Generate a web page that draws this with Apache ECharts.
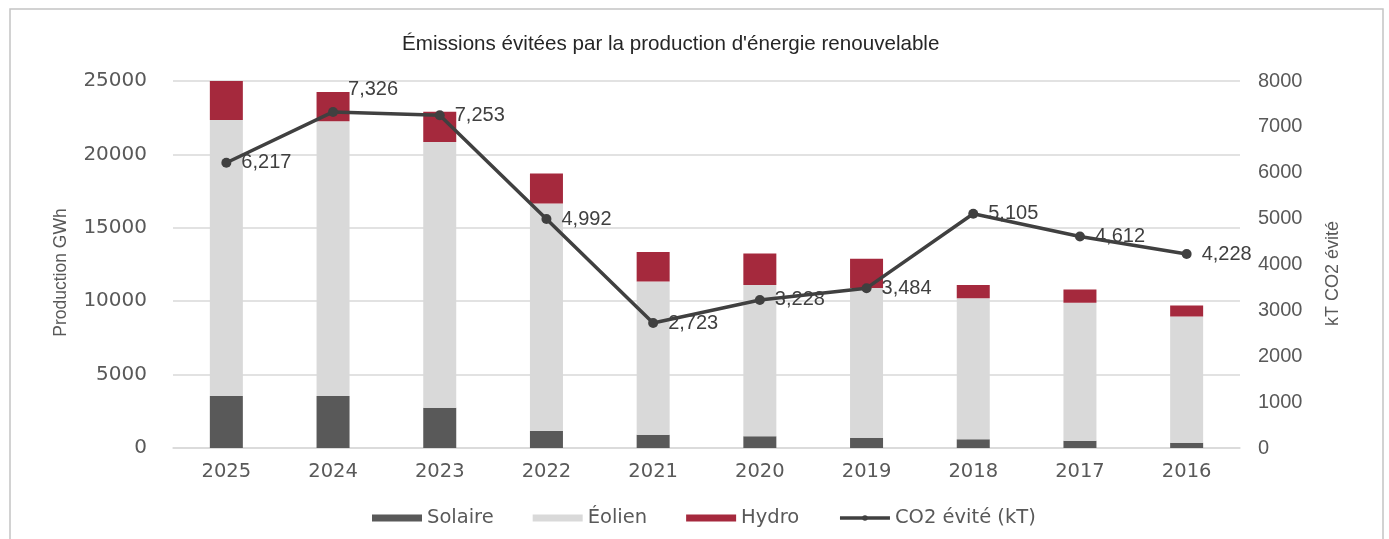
<!DOCTYPE html>
<html>
<head>
<meta charset="utf-8">
<script src="https://cdn.jsdelivr.net/npm/echarts@6/dist/echarts.min.js"></script>
<style>
html,body{margin:0;padding:0;background:#fff;}
#c{width:1389px;height:539px;}
</style>
</head>
<body>
<div id="c"></div>
<script>
const years = ['2025','2024','2023','2022','2021','2020','2019','2018','2017','2016'];
const solaire = [3550, 3550, 2750, 1150, 900, 800, 700, 600, 500, 350];
const eolien = [18800, 18700, 18100, 15500, 10450, 10300, 10200, 9600, 9400, 8600];
const hydro = [2800, 2000, 2050, 2050, 2000, 2150, 2000, 900, 900, 750];
const co2 = [6217, 7326, 7253, 4992, 2723, 3228, 3484, 5105, 4612, 4228];

const FONT = '"Liberation Sans", Arial, sans-serif';
const WIDE = '"DejaVu Sans", sans-serif';
const TXT = '#595959';

const chart = echarts.init(document.getElementById('c'), null, {renderer:'canvas'});
chart.setOption({
  animation:false,
  backgroundColor:'#fff',
  textStyle:{fontFamily:FONT},
  graphic:[{type:'rect', shape:{x:10,y:9,width:1373,height:600}, style:{fill:'none', stroke:'#c4c4c4', lineWidth:1.5}, silent:true}],
  title:{
    text:"Émissions évitées par la production d'énergie renouvelable",
    left:397, top:29,
    textStyle:{fontFamily:FONT, fontSize:20.6, fontWeight:'normal', color:'#262626'}
  },
  legend:{
    top:503, left:367, itemWidth:50, itemHeight:7, itemGap:39,
    textStyle:{fontFamily:WIDE, fontSize:19.5, color:TXT},
    data:[{name:'Solaire', icon:'rect'},{name:'Éolien', icon:'rect'},{name:'Hydro', icon:'rect'},{name:'CO2 évité (kT)', lineStyle:{width:3.5}}]
  },
  grid:{left:173, right:149, top:81, bottom:91, containLabel:false},
  xAxis:{
    type:'category', data:years,
    axisLine:{lineStyle:{color:'#d9d9d9', width:1.5}},
    axisTick:{show:false},
    axisLabel:{color:TXT, fontSize:19.5, fontFamily:WIDE, margin:14}
  },
  yAxis:[{
    type:'value', min:0, max:25000, interval:5000,
    name:'Production GWh', nameLocation:'middle', nameRotate:90, nameGap:103,
    nameTextStyle:{color:TXT, fontSize:17.5, fontFamily:FONT, padding:[0,16,0,0]},
    axisLine:{show:false}, axisTick:{show:false},
    axisLabel:{color:TXT, fontSize:20, fontFamily:WIDE, margin:26, formatter:v=>String(v)},
    splitLine:{lineStyle:{color:'#d9d9d9', width:1.5}}
  },{
    type:'value', min:0, max:8000, interval:1000, position:'right',
    name:'kT CO2 évité', nameLocation:'middle', nameRotate:90, nameGap:84,
    nameTextStyle:{color:TXT, fontSize:18, fontFamily:FONT, padding:[0,18,0,0]},
    axisLine:{show:false}, axisTick:{show:false},
    axisLabel:{color:TXT, fontSize:20, fontFamily:FONT, margin:18, formatter:v=>String(v)},
    splitLine:{show:false}
  }],
  series:[
    {name:'Solaire', type:'bar', stack:'p', barWidth:33, data:solaire, itemStyle:{color:'#595959'}},
    {name:'Éolien', type:'bar', stack:'p', barWidth:33, data:eolien, itemStyle:{color:'#d9d9d9'}},
    {name:'Hydro', type:'bar', stack:'p', barWidth:33, data:hydro, itemStyle:{color:'#a5293d'}},
    {name:'CO2 évité (kT)', type:'line', yAxisIndex:1, data:co2.map((v,i)=>({value:v, label: i===1 ? {offset:[0,-22]} : {}})),
     symbol:'circle', symbolSize:10,
     lineStyle:{color:'#404040', width:3.5}, itemStyle:{color:'#404040'},
     label:{show:true, position:'right', distance:10, color:'#404040', fontSize:20, fontFamily:FONT,
       formatter:p=>p.value.toLocaleString('en-US')}}
  ]
});
</script>
</body>
</html>
